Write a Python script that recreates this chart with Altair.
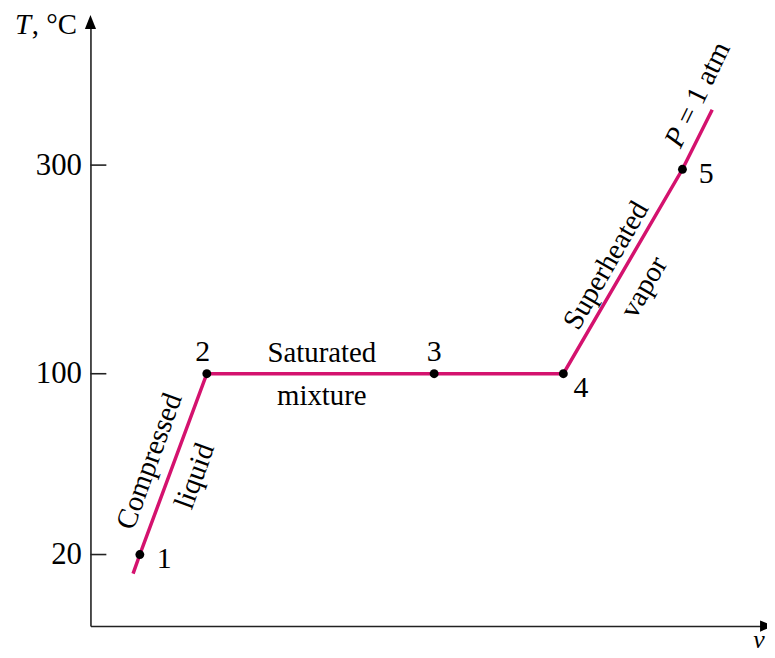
import altair as alt
import pandas as pd

# Process line at P = 1 atm (specific volume in arbitrary units, temperature in °C)
line_v = [0.63, 0.73, 1.72, 5.08, 6.99, 8.75, 9.19]
line_T = [11.6, 20, 100, 100, 100, 296, 353]

# State points
state_labels = ["1", "2", "3", "4", "5"]
state_v = [0.73, 1.72, 5.08, 6.99, 8.75]
state_T = [20, 100, 100, 100, 296]

# Axis tick labels
tick_values = [20, 100, 300]

# State number labels (positions in data units)
num_text = ["1", "2", "3", "4", "5"]
num_v = [0.98, 1.66, 5.08, 7.25, 9.10]
num_T = [18.2, 121, 121, 93.8, 291.4]
num_align = ["left", "center", "center", "center", "center"]

# Region labels
reg_text = ["Saturated", "mixture", "Compressed", "liquid", "Superheated", "vapor"]
reg_v = [3.42, 3.42, 0.87, 1.54, 7.62, 8.18]
reg_T = [120, 89.9, 61.3, 54.7, 203.8, 182.9]
reg_angle = [0, 0, 290, 290, 300, 300]

# Pressure label
p_text = ["P", "= 1 atm"]
p_v = [8.72, 8.89]
p_T = [315.2, 336.5]
p_style = ["italic", "normal"]

W, H = 681, 608
FONT = "Liberation Serif"
LINE_COLOR = "#d4126e"

xs = alt.Scale(domain=[0, 10], nice=False, zero=False)
ys = alt.Scale(domain=[-11.6, 20, 100, 300, 437], range=[H, 536, 354, 144, 0],
               nice=False, zero=False)

line_df = pd.DataFrame({"v": line_v, "T": line_T, "order": list(range(len(line_v)))})
state_df = pd.DataFrame({"label": state_labels, "v": state_v, "T": state_T})
tick_df = pd.DataFrame({"T": tick_values})
num_df = pd.DataFrame({"text": num_text, "v": num_v, "T": num_T, "align": num_align})
reg_df = pd.DataFrame({"text": reg_text, "v": reg_v, "T": reg_T, "angle": reg_angle})
p_df = pd.DataFrame({"text": p_text, "v": p_v, "T": p_T, "style": p_style})

x_enc = alt.X("v:Q", scale=xs,
              axis=alt.Axis(title=None, labels=False, ticks=False, grid=False,
                            domainColor="#222222", domainWidth=1.6))
y_enc = alt.Y("T:Q", scale=ys,
              axis=alt.Axis(title=None, values=tick_values, ticks=False, grid=False,
                            labelFont=FONT, labelFontSize=31, labelColor="black",
                            labelPadding=9, domainColor="#222222", domainWidth=1.6))

base_line = alt.Chart(line_df).mark_line(color=LINE_COLOR, strokeWidth=3.5).encode(
    x=x_enc, y=y_enc, order="order:Q")

ticks = alt.Chart(tick_df).mark_rule(color="#222222", strokeWidth=1.6).encode(
    y=alt.Y("T:Q", scale=ys), x=alt.value(0), x2=alt.value(16))

points = alt.Chart(state_df).mark_point(filled=True, color="black", size=80, opacity=1).encode(
    x=alt.X("v:Q", scale=xs), y=alt.Y("T:Q", scale=ys))

num_left = alt.Chart(num_df[num_df["align"] == "left"]).mark_text(
    font=FONT, fontSize=30, color="black", align="left", baseline="middle").encode(
    x=alt.X("v:Q", scale=xs), y=alt.Y("T:Q", scale=ys), text="text:N")
num_center = alt.Chart(num_df[num_df["align"] == "center"]).mark_text(
    font=FONT, fontSize=30, color="black", align="center", baseline="middle").encode(
    x=alt.X("v:Q", scale=xs), y=alt.Y("T:Q", scale=ys), text="text:N")

region_layers = []
for ang in sorted(set(reg_angle)):
    sub = reg_df[reg_df["angle"] == ang]
    region_layers.append(
        alt.Chart(sub).mark_text(font=FONT, fontSize=29, color="black", align="center",
                                 baseline="middle", angle=ang).encode(
            x=alt.X("v:Q", scale=xs), y=alt.Y("T:Q", scale=ys), text="text:N"))

p_layers = []
for st in p_style:
    sub = p_df[p_df["style"] == st]
    p_layers.append(
        alt.Chart(sub).mark_text(font=FONT, fontSize=29, color="black", align="left",
                                 baseline="alphabetic", angle=296, fontStyle=st).encode(
            x=alt.X("v:Q", scale=xs), y=alt.Y("T:Q", scale=ys), text="text:N"))

anchor = pd.DataFrame({"a": [0]})
y_arrow = alt.Chart(anchor).mark_point(
    shape="M0,-1L0.8,1L-0.8,1Z", filled=True, color="black", size=196, opacity=1).encode(
    x=alt.value(0), y=alt.value(0))
x_arrow = alt.Chart(anchor).mark_point(
    shape="M1,0L-1,-0.8L-1,0.8Z", filled=True, color="black", size=196, opacity=1).encode(
    x=alt.value(W), y=alt.value(H))

t_title = alt.Chart(anchor).mark_text(
    font=FONT, fontSize=29, color="black", align="left", baseline="alphabetic",
    fontStyle="italic").encode(x=alt.value(-76), y=alt.value(12), text=alt.value("T"))
c_title = alt.Chart(anchor).mark_text(
    font=FONT, fontSize=29, color="black", align="left", baseline="alphabetic").encode(
    x=alt.value(-59), y=alt.value(12), text=alt.value(", °C"))
v_title = alt.Chart(anchor).mark_text(
    font=FONT, fontSize=26, color="black", align="center", baseline="bottom",
    fontStyle="italic").encode(x=alt.value(W - 8), y=alt.value(H + 27), text=alt.value("v"))

chart = alt.layer(
    base_line, ticks, points, num_left, num_center, *region_layers, *p_layers,
    y_arrow, x_arrow, t_title, c_title, v_title
).properties(
    width=W, height=H,
    autosize=alt.AutoSizeParams(type="none"),
    padding={"left": 83, "top": 12, "right": 0, "bottom": 29},
    background="white",
).configure_view(stroke=None)

chart.save("out.html", embed_options={"renderer": "svg", "actions": False})
